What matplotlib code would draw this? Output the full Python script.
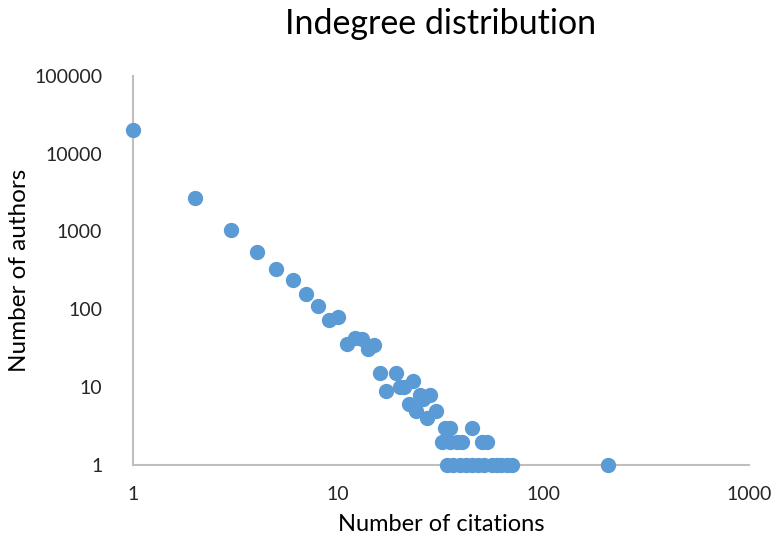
import matplotlib
matplotlib.use("Agg")
from matplotlib import pyplot as plt

plt.rcParams['font.family'] = ['Lato', 'DejaVu Sans']

# number of citations (indegree) and number of authors with it
citations = [1, 2, 3, 4, 5, 6, 7, 8, 9, 10,
             11, 12, 13, 14, 15, 16, 17, 19, 20, 22,
             21, 23, 24, 25, 27, 26, 28, 30,
             33, 35, 45,
             32, 35, 38, 40, 50, 53,
             34, 36, 39, 42, 45, 48, 51, 56, 59, 62, 66, 70, 206]
authors = [20000, 2700, 1050, 550, 330, 240, 155, 110, 73, 80,
           36, 43, 41, 31, 35, 15, 9, 15, 10, 6,
           10, 12, 5, 8, 4, 7, 8, 5,
           3, 3, 3,
           2, 2, 2, 2, 2, 2,
           1, 1, 1, 1, 1, 1, 1, 1, 1, 1, 1, 1, 1]

fig = plt.figure(figsize=(7.77, 5.49), dpi=100)
ax = fig.add_axes([0.171, 0.153, 0.793, 0.709])

ax.scatter(citations, authors, s=100, color="#5B9BD5", zorder=3, clip_on=False)

ax.set_xscale("log")
ax.set_yscale("log")
ax.set_xlim(1, 1000)
ax.set_ylim(1, 100000)
ax.set_xticks([1, 10, 100, 1000])
ax.set_xticklabels(["1", "10", "100", "1000"])
ax.set_yticks([1, 10, 100, 1000, 10000, 100000])
ax.set_yticklabels(["1", "10", "100", "1000", "10000", "100000"])
ax.minorticks_off()
ax.tick_params(length=0, labelsize=14, colors="#262626")
ax.tick_params(axis="x", pad=15)
ax.tick_params(axis="y", pad=22)

for s in ["top", "right"]:
    ax.spines[s].set_visible(False)
for s in ["left", "bottom"]:
    ax.spines[s].set_color("#BFBFBF")
    ax.spines[s].set_linewidth(1.5)

ax.set_title("Indegree distribution", fontsize=24.5, pad=30)
ax.set_xlabel("Number of citations", fontsize=17, labelpad=8)
ax.set_ylabel("Number of authors", fontsize=17.5, labelpad=3)

fig.savefig("out.png", dpi=100)
